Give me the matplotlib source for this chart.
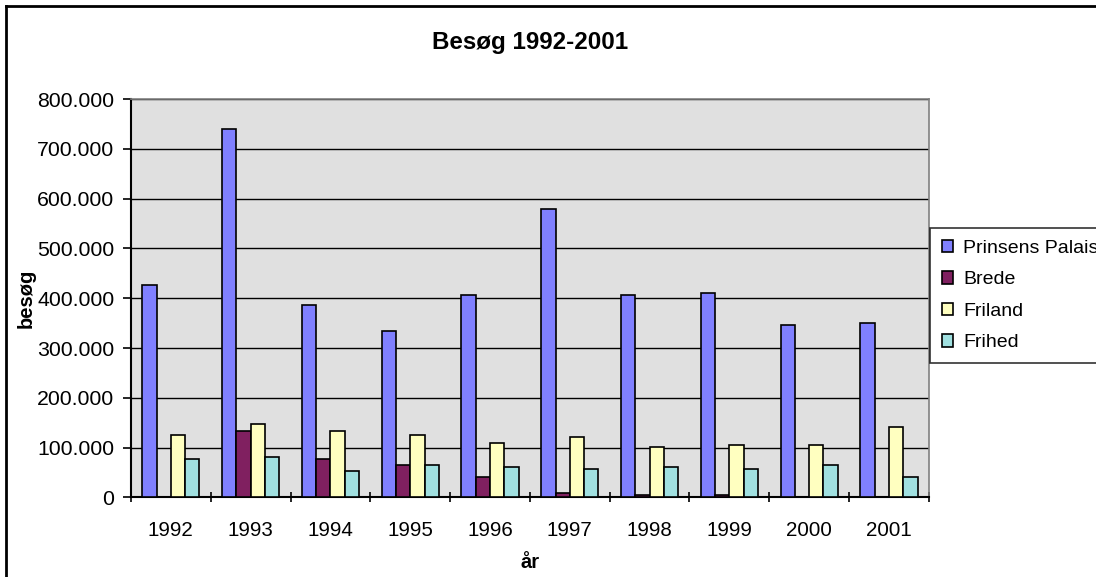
import matplotlib.pyplot as plt
import numpy as np
from matplotlib.ticker import FuncFormatter, FixedLocator

plt.rcParams['font.family'] = ['Liberation Sans', 'DejaVu Sans']

years = ['1992', '1993', '1994', '1995', '1996', '1997', '1998', '1999', '2000', '2001']
series = ['Prinsens Palais', 'Brede', 'Friland', 'Frihed']
prinsens_palais = [426000, 739000, 386000, 335000, 406000, 580000, 406000, 411000, 346000, 350000]
brede = [0, 134000, 78000, 66000, 42000, 10000, 6000, 6000, 0, 0]
friland = [126000, 147000, 134000, 126000, 110000, 122000, 102000, 106000, 106000, 142000]
frihed = [78000, 82000, 54000, 66000, 62000, 58000, 62000, 58000, 66000, 42000]
colors = ['#8080FF', '#802060', '#FFFFC0', '#A0E0E0']

fig = plt.figure(figsize=(10.96, 5.77), dpi=100)
ax = fig.add_axes([0.1195, 0.1378, 0.728, 0.6906])
ax.set_facecolor('#E0E0E0')

x = np.arange(len(years))
bw = 0.179
data = [prinsens_palais, brede, friland, frihed]
for i, (vals, name, c) in enumerate(zip(data, series, colors)):
    ax.bar(x + (i - 1.5) * bw, vals, bw, color=c, edgecolor='black',
           linewidth=1.2, label=name, zorder=3)

ax.set_xlim(-0.5, len(years) - 0.5)
ax.set_ylim(0, 800000)
ax.set_yticks(np.arange(0, 800001, 100000))
ax.yaxis.set_major_formatter(FuncFormatter(lambda v, p: '0' if v == 0 else f'{int(v):,}'.replace(',', '.')))
ax.grid(axis='y', color='black', linewidth=1, zorder=0)
ax.set_axisbelow(True)

ax.set_xticks(x)
ax.set_xticklabels(years)
ax.xaxis.set_minor_locator(FixedLocator(np.arange(-0.5, len(years), 1.0)))
ax.tick_params(axis='x', which='major', length=0, pad=17, labelsize=14.8)
ax.tick_params(axis='x', which='minor', length=7, width=1.2, direction='inout')
ax.tick_params(axis='y', length=6, width=1.2, labelsize=15.3, pad=6)

for s in ['left', 'bottom']:
    ax.spines[s].set_linewidth(1.5)
    ax.spines[s].set_color('black')
for s in ['top', 'right']:
    ax.spines[s].set_linewidth(1.2)
    ax.spines[s].set_color('#808080')

ax.set_title('Besøg 1992-2001', fontsize=17.4, fontweight='bold', pad=36)
ax.set_xlabel('år', fontsize=14.5, fontweight='bold', labelpad=9)
ax.set_ylabel('besøg', fontsize=14.5, fontweight='bold')
ax.yaxis.set_label_coords(-0.119, 0.5)

leg = ax.legend(loc='upper left', bbox_to_anchor=(0.8485, 0.605),
                bbox_transform=fig.transFigure, fontsize=14, frameon=True,
                fancybox=False, edgecolor='black', handlelength=0.6,
                handleheight=0.6, handletextpad=0.5, labelspacing=0.75,
                borderpad=0.6, borderaxespad=0)
leg.get_frame().set_linewidth(1.2)

# chart border (extends past the canvas at right and bottom)
fig.add_artist(plt.Line2D([0.0055, 0.0055], [0, 0.9896], color='black', lw=2, transform=fig.transFigure))
fig.add_artist(plt.Line2D([0.0055, 1.0], [0.9896, 0.9896], color='black', lw=2, transform=fig.transFigure))

fig.savefig('out.png', dpi=100)
